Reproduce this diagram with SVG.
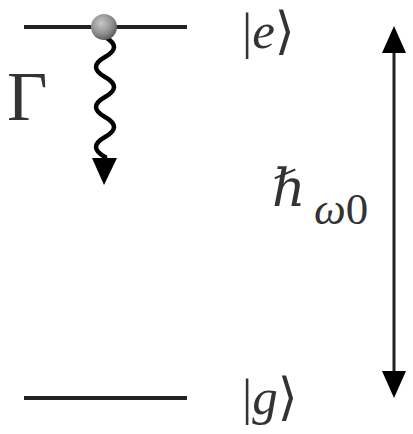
<svg xmlns="http://www.w3.org/2000/svg" width="413" height="434" viewBox="0 0 413 434">
<style>
.lvl{stroke:#222;stroke-width:4;fill:none}
.m{font-family:"Liberation Serif","DejaVu Serif",serif;fill:#333}
.it{font-style:italic}
</style>
<defs>
<radialGradient id="ball" cx="0.4" cy="0.35" r="0.7">
<stop offset="0" stop-color="#c8c8c8"/>
<stop offset="0.6" stop-color="#8e8e8e"/>
<stop offset="1" stop-color="#555"/>
</radialGradient>
</defs>
<rect width="413" height="434" fill="#fff"/>
<g id="excited">
<line class="lvl" x1="24" y1="27" x2="187" y2="27"/>
<text class="m" x="242" y="48" font-size="51">|<tspan class="it">e</tspan>⟩</text>
</g>
<g id="ground">
<line class="lvl" x1="24" y1="398" x2="187" y2="398"/>
<text class="m" x="242" y="414" font-size="51">|<tspan class="it">g</tspan>⟩</text>
</g>
<g id="connectors">
<path d="M105,37 Q123,47 105,57 T105,77 T105,97 T105,117 T105,137 T105,157 L105,162" stroke="#000" stroke-width="4.5" fill="none"/>
<polygon points="92,158 117,158 104,185" fill="#000"/>
<line x1="394" y1="48" x2="394" y2="376" stroke="#222" stroke-width="3"/>
<polygon points="394,26 406,53 382,53" fill="#000"/>
<polygon points="394,398 406,371 382,371" fill="#000"/>
</g>
<g id="atom">
<circle cx="104" cy="27" r="13" fill="url(#ball)"/>
</g>
<g id="labels">
<text class="m" x="7" y="120" font-size="70">Γ</text>
<text x="272" y="206" font-size="52" font-style="italic" font-family="'DejaVu Serif',serif" fill="#333">ℏ</text>
<text class="m" x="314" y="224" font-size="45"><tspan class="it">ω</tspan>0</text>
</g>
</svg>
